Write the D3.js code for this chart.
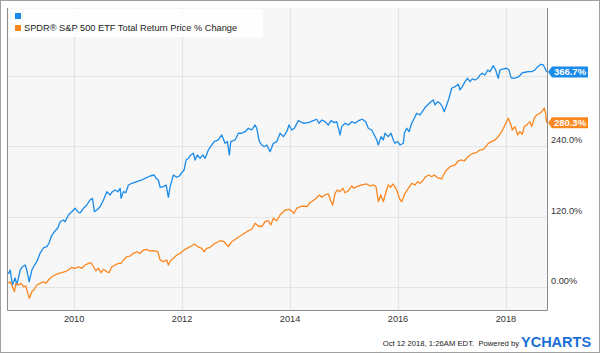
<!DOCTYPE html>
<html>
<head>
<meta charset="utf-8">
<script src="https://cdn.jsdelivr.net/npm/d3@7"></script>
<style>
  body { margin: 0; background: #fff; }
  text { font-family: "Liberation Sans", Arial, sans-serif; }
</style>
</head>
<body>
<div id="container"></div>
<script>
/* CONSTANTS AND GLOBALS */
const width = 600;
const height = 353;
const plot = { left: 8, right: 547, top: 8, bottom: 310 };

// blue series (unnamed in legend), [decimal year, % change]
const blueSeries = [
  [2008.78,22.2],[2008.815,29.0],[2008.857,3.4],[2008.907,15.4],[2008.939,3.4],[2009.0,29.0],
  [2009.043,34.6],[2009.093,37.5],[2009.124,29.0],[2009.167,9.0],[2009.217,29.0],[2009.265,37.5],
  [2009.309,43.2],[2009.37,58.0],[2009.431,66.6],[2009.494,68.8],[2009.537,75.1],[2009.574,85.8],
  [2009.635,94.4],[2009.698,100.7],[2009.741,111.4],[2009.802,114.3],[2009.833,111.4],[2009.894,122.9],
  [2009.957,128.5],[2010.019,134.3],[2010.069,128.5],[2010.111,126.3],[2010.172,134.3],[2010.235,139.9],
  [2010.296,148.5],[2010.339,151.4],[2010.376,128.5],[2010.42,131.4],[2010.481,137.0],[2010.543,148.5],
  [2010.606,162.6],[2010.667,157.0],[2010.709,162.6],[2010.759,165.5],[2010.809,162.6],[2010.852,168.4],
  [2010.87,151.4],[2010.913,162.6],[2010.957,160.9],[2011.006,174.1],[2011.069,177.0],[2011.161,179.7],
  [2011.254,182.6],[2011.315,185.5],[2011.407,189.4],[2011.481,191.1],[2011.519,185.5],[2011.561,182.6],
  [2011.593,170.1],[2011.654,171.2],[2011.704,174.1],[2011.746,153.1],[2011.778,171.2],[2011.839,191.1],
  [2011.902,187.2],[2011.95,189.4],[2011.994,195.1],[2012.037,199.7],[2012.074,216.7],[2012.117,219.6],
  [2012.161,225.3],[2012.209,228.2],[2012.241,216.7],[2012.283,225.3],[2012.333,219.6],[2012.383,225.3],
  [2012.426,219.6],[2012.487,233.8],[2012.55,242.3],[2012.593,248.0],[2012.672,250.9],[2012.735,259.4],
  [2012.796,245.2],[2012.839,248.0],[2012.876,225.3],[2012.902,248.0],[2012.981,250.9],[2013.043,262.3],
  [2013.106,262.3],[2013.167,265.0],[2013.228,270.8],[2013.291,267.9],[2013.352,276.5],[2013.383,270.8],
  [2013.431,248.0],[2013.476,242.3],[2013.519,239.4],[2013.569,242.3],[2013.63,230.9],[2013.691,245.2],
  [2013.754,248.0],[2013.815,262.3],[2013.876,256.5],[2013.939,265.0],[2013.981,276.5],[2014.031,267.9],
  [2014.08,270.8],[2014.154,283.8],[2014.246,279.4],[2014.339,280.4],[2014.431,283.8],[2014.494,286.2],
  [2014.537,279.4],[2014.587,285.0],[2014.648,282.1],[2014.709,276.5],[2014.759,283.8],[2014.82,280.4],
  [2014.865,282.1],[2014.926,259.4],[2014.957,273.6],[2015.019,279.4],[2015.08,276.5],[2015.143,282.1],
  [2015.204,279.4],[2015.265,283.8],[2015.339,286.2],[2015.402,282.1],[2015.45,270.8],[2015.513,267.9],
  [2015.561,259.4],[2015.606,250.9],[2015.635,242.3],[2015.685,256.5],[2015.728,250.9],[2015.759,262.3],
  [2015.82,256.5],[2015.87,262.3],[2015.913,250.9],[2015.944,245.2],[2015.994,248.0],[2016.037,242.3],
  [2016.098,245.2],[2016.117,262.3],[2016.161,270.8],[2016.204,265.0],[2016.254,279.4],[2016.302,287.9],
  [2016.346,296.4],[2016.407,293.5],[2016.45,299.2],[2016.513,307.7],[2016.561,311.8],[2016.611,316.2],
  [2016.654,319.1],[2016.685,310.6],[2016.735,316.2],[2016.778,313.5],[2016.82,307.7],[2016.857,299.2],
  [2016.902,310.6],[2016.944,322.0],[2016.994,339.1],[2017.056,341.8],[2017.117,345.9],[2017.148,336.2],
  [2017.191,341.8],[2017.241,350.4],[2017.291,356.1],[2017.333,350.4],[2017.376,355.0],[2017.426,353.2],
  [2017.476,356.1],[2017.519,361.8],[2017.561,364.7],[2017.611,361.8],[2017.661,370.3],[2017.704,367.4],
  [2017.765,377.6],[2017.809,370.3],[2017.857,356.1],[2017.889,370.3],[2017.95,372.0],[2018.013,373.2],
  [2018.056,370.3],[2018.093,357.2],[2018.135,356.1],[2018.198,357.2],[2018.241,358.9],[2018.291,364.7],
  [2018.352,366.4],[2018.413,367.4],[2018.476,367.4],[2018.537,370.3],[2018.587,375.9],[2018.648,380.0],
  [2018.691,378.8],[2018.722,373.2],[2018.754,366.7]
];

// SPDR S&P 500 ETF total return, [decimal year, % change]
const orangeSeries = [
  [2008.78,6.3],[2008.815,9.0],[2008.857,0.5],[2008.894,-8.0],[2008.92,6.3],[2008.969,3.4],
  [2009.019,6.3],[2009.061,0.5],[2009.106,1.7],[2009.143,-10.8],[2009.172,-19.3],[2009.217,-8.0],
  [2009.265,-3.9],[2009.309,3.4],[2009.37,6.3],[2009.431,9.0],[2009.476,6.3],[2009.524,11.9],
  [2009.587,17.6],[2009.648,20.5],[2009.709,23.4],[2009.772,24.4],[2009.833,26.1],[2009.894,29.0],
  [2009.957,33.6],[2010.019,31.9],[2010.08,34.6],[2010.143,31.9],[2010.204,37.5],[2010.265,40.4],
  [2010.315,41.5],[2010.357,34.6],[2010.402,27.8],[2010.45,31.9],[2010.5,24.4],[2010.543,30.2],
  [2010.606,26.1],[2010.648,24.4],[2010.698,34.6],[2010.759,37.5],[2010.82,40.4],[2010.87,40.4],
  [2010.913,46.1],[2010.976,51.7],[2011.037,52.9],[2011.098,57.5],[2011.161,60.2],[2011.222,57.5],
  [2011.283,63.1],[2011.346,64.3],[2011.407,61.5],[2011.469,61.9],[2011.55,60.2],[2011.593,46.1],
  [2011.654,43.2],[2011.717,46.1],[2011.746,37.5],[2011.796,46.1],[2011.839,49.0],[2011.902,54.6],
  [2011.963,57.5],[2012.056,64.3],[2012.148,68.8],[2012.228,73.4],[2012.291,68.8],[2012.365,66.0],
  [2012.407,60.2],[2012.457,66.0],[2012.519,67.7],[2012.611,74.6],[2012.704,79.0],[2012.778,77.3],
  [2012.857,68.8],[2012.92,77.3],[2013.013,83.1],[2013.106,88.7],[2013.198,94.4],[2013.291,98.5],
  [2013.352,108.7],[2013.413,104.1],[2013.476,102.9],[2013.537,111.4],[2013.598,113.1],[2013.643,105.8],
  [2013.691,117.2],[2013.754,113.1],[2013.815,122.9],[2013.907,131.4],[2013.987,132.6],[2014.074,125.8],
  [2014.124,134.3],[2014.185,137.0],[2014.259,138.2],[2014.309,137.0],[2014.37,143.9],[2014.463,149.7],
  [2014.543,157.0],[2014.587,153.1],[2014.648,157.0],[2014.709,158.7],[2014.754,147.3],[2014.791,139.9],
  [2014.833,159.9],[2014.876,165.5],[2014.926,162.6],[2014.976,168.4],[2015.019,160.9],[2015.08,164.3],
  [2015.143,172.4],[2015.185,168.4],[2015.235,171.2],[2015.328,174.1],[2015.42,175.8],[2015.481,172.4],
  [2015.543,174.1],[2015.593,171.2],[2015.635,145.6],[2015.68,157.0],[2015.728,145.6],[2015.778,162.6],
  [2015.82,174.1],[2015.865,170.1],[2015.902,175.8],[2015.944,171.2],[2015.987,162.6],[2016.024,151.4],
  [2016.069,145.6],[2016.13,159.9],[2016.191,168.4],[2016.254,177.0],[2016.315,174.1],[2016.365,179.7],
  [2016.407,177.0],[2016.469,182.6],[2016.513,188.2],[2016.574,191.1],[2016.624,188.2],[2016.672,191.1],
  [2016.735,186.5],[2016.809,184.3],[2016.857,194.0],[2016.902,199.7],[2016.963,205.3],[2017.056,208.2],
  [2017.117,215.0],[2017.18,216.7],[2017.228,215.0],[2017.272,219.6],[2017.333,225.3],[2017.394,228.2],
  [2017.457,229.9],[2017.519,233.8],[2017.561,233.8],[2017.611,237.7],[2017.672,245.2],[2017.735,248.0],
  [2017.796,250.9],[2017.857,256.5],[2017.92,265.0],[2017.981,276.5],[2018.043,287.9],[2018.093,276.5],
  [2018.117,267.9],[2018.167,273.6],[2018.217,259.4],[2018.259,265.0],[2018.302,260.6],[2018.339,273.6],
  [2018.383,276.5],[2018.444,282.1],[2018.476,273.6],[2018.524,287.9],[2018.569,293.5],[2018.63,296.4],
  [2018.672,300.3],[2018.709,305.0],[2018.735,296.4],[2018.754,280.3]
];

const legendLabels = ["", "SPDR\u00AE S&P 500 ETF Total Return Price % Change"];
const seriesColors = ["#1a8be8", "#fb871f"];
const endLabels = ["366.7%", "280.3%"];
const yTicks = [0, 120, 240, 360];
const yTickLabels = ["0.00%", "120.0%", "240.0%", "360.0%"];
const xTicks = [2010, 2012, 2014, 2016, 2018];
const footerText = "Oct 12 2018, 1:26AM EDT.  Powered by";

// CREATE SVG ELEMENT
const svg = d3.select("#container")
  .append("svg")
  .attr("width", width)
  .attr("height", height);

svg.append("rect")
  .attr("x", 0.5).attr("y", 0.5)
  .attr("width", width - 1).attr("height", height - 1)
  .attr("fill", "#fff")
  .attr("stroke", "#a0a0a0");

// SCALES
const x = d3.scaleLinear()
  .domain([2008.775, 2018.76])
  .range([plot.left, plot.right]);

const y = d3.scaleLinear()
  .domain([-39.2, 476])
  .range([plot.bottom, plot.top]);

// plot background
svg.append("rect")
  .attr("x", plot.left).attr("y", plot.top)
  .attr("width", plot.right - plot.left)
  .attr("height", plot.bottom - plot.top)
  .attr("fill", "#f7f7f7");

// grid
svg.append("g")
  .selectAll("line")
  .data(yTicks)
  .join("line")
    .attr("x1", plot.left).attr("x2", plot.right)
    .attr("y1", d => Math.round(y(d)) + 0.5)
    .attr("y2", d => Math.round(y(d)) + 0.5)
    .attr("stroke", "#e4e4e4")
    .attr("stroke-width", 1.2);

svg.append("g")
  .selectAll("line")
  .data(xTicks)
  .join("line")
    .attr("x1", d => Math.round(x(d)) + 0.5)
    .attr("x2", d => Math.round(x(d)) + 0.5)
    .attr("y1", plot.top).attr("y2", plot.bottom)
    .attr("stroke", "#e4e4e4")
    .attr("stroke-width", 1.2);

// plot frame (left, bottom, right)
svg.append("path")
  .attr("d", `M${plot.left - 0.5},${plot.top}V${plot.bottom + 0.5}H${plot.right + 0.5}V${plot.top}`)
  .attr("fill", "none")
  .attr("stroke", "#8c8c8c");

// LINES
const line = d3.line()
  .x(d => x(d[0]))
  .y(d => y(d[1]));

const allSeries = [blueSeries, orangeSeries];

svg.append("g")
  .selectAll("path")
  .data(allSeries)
  .join("path")
    .attr("fill", "none")
    .attr("stroke", (d, i) => seriesColors[i])
    .attr("stroke-width", 1.3)
    .attr("stroke-linejoin", "round")
    .attr("d", line);

// end-value tags
const tagY = allSeries.map(s => y(s[s.length - 1][1]));
const tags = svg.append("g")
  .selectAll("g")
  .data(allSeries)
  .join("g")
    .attr("transform", (d, i) => `translate(${plot.right + 1},${tagY[i]})`);

tags.append("path")
  .attr("d", "M0,0L4,-5.5H40V5.5H4Z")
  .attr("fill", (d, i) => seriesColors[i]);

tags.append("text")
  .attr("x", 22)
  .attr("dy", "0.36em")
  .attr("text-anchor", "middle")
  .attr("fill", "#fff")
  .attr("font-size", "9.5px")
  .attr("font-weight", "bold")
  .text((d, i) => endLabels[i]);

// AXES LABELS
svg.append("g")
  .selectAll("text")
  .data(yTicks.filter(t => tagY.every(ty => Math.abs(y(t) - 6 - ty) > 11)))
  .join("text")
    .attr("x", plot.right + 4)
    .attr("y", d => y(d) - 3)
    .attr("fill", "#333")
    .attr("font-size", "9.2px")
    .text(d => yTickLabels[yTicks.indexOf(d)]);

svg.append("g")
  .selectAll("text")
  .data(xTicks)
  .join("text")
    .attr("x", d => x(d))
    .attr("y", plot.bottom + 12)
    .attr("text-anchor", "middle")
    .attr("fill", "#333")
    .attr("font-size", "9.2px")
    .text(d => d);

// LEGEND
svg.append("rect")
  .attr("x", plot.left + 1).attr("y", plot.top + 1)
  .attr("width", 254).attr("height", 28)
  .attr("fill", "#fff")
  .attr("fill-opacity", 0.85);

const legend = svg.append("g")
  .selectAll("g")
  .data(legendLabels)
  .join("g")
    .attr("transform", (d, i) => `translate(15,${16 + i * 12})`);

legend.append("rect")
  .attr("x", 0).attr("y", -3)
  .attr("width", 6).attr("height", 6)
  .attr("fill", (d, i) => seriesColors[i]);

legend.append("text")
  .attr("x", 9)
  .attr("dy", "0.35em")
  .attr("fill", "#222")
  .attr("font-size", "9.25px")
  .text(d => d);

// FOOTER
svg.append("text")
  .attr("x", 519)
  .attr("y", 346)
  .attr("text-anchor", "end")
  .attr("fill", "#222")
  .attr("font-size", "7.7px")
  .attr("xml:space", "preserve")
  .text(footerText);

svg.append("text")
  .attr("x", 521)
  .attr("y", 347)
  .attr("fill", "#1b6fd6")
  .attr("font-size", "14.5px")
  .attr("font-weight", "bold")
  .text("YCHARTS");
</script>
</body>
</html>
